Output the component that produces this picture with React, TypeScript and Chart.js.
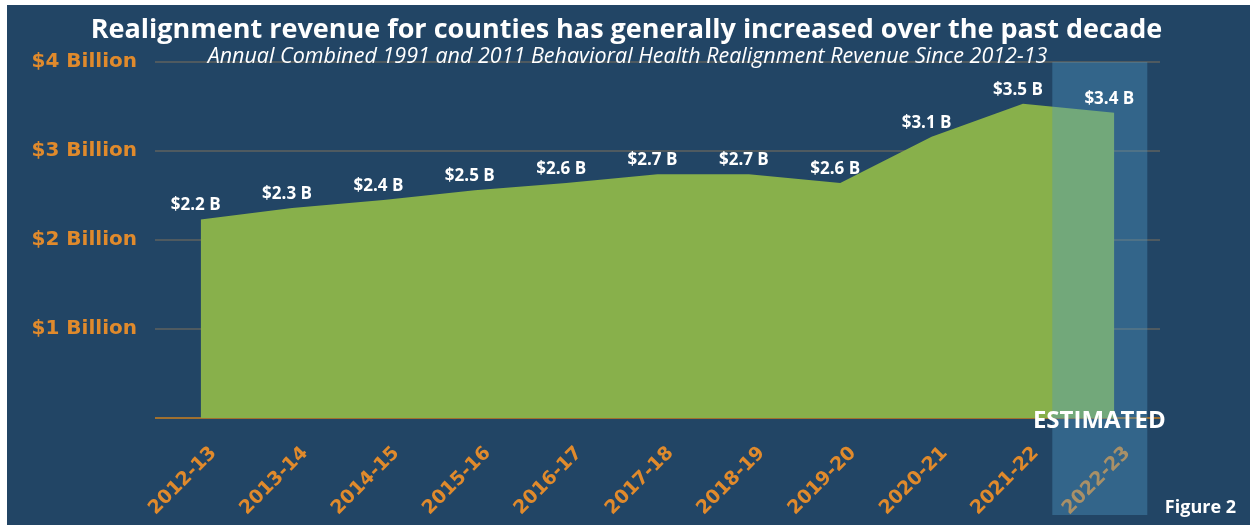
import React, { useEffect, useRef } from "react";
import { Chart, registerables } from "chart.js";

Chart.register(...registerables);

const categories = ["2012-13", "2013-14", "2014-15", "2015-16", "2016-17", "2017-18", "2018-19", "2019-20", "2020-21", "2021-22", "2022-23"];
const revenueBillions = [2.23, 2.36, 2.45, 2.56, 2.64, 2.74, 2.74, 2.64, 3.16, 3.53, 3.43];
const valueLabels = ["$2.2 B", "$2.3 B", "$2.4 B", "$2.5 B", "$2.6 B", "$2.7 B", "$2.7 B", "$2.6 B", "$3.1 B", "$3.5 B", "$3.4 B"];
const yTickLabels = ["", "$1 Billion", "$2 Billion", "$3 Billion", "$4 Billion"];

const TITLE = "Realignment revenue for counties has generally increased over the past decade";
const SUBTITLE = "Annual Combined 1991 and 2011 Behavioral Health Realignment Revenue Since 2012-13";
const ESTIMATED = "ESTIMATED";
const FIGURE = "Figure 2";

const NAVY = "#224565";
const ORANGE = "#e08a2c";
const GREEN = "#88b04b";

const W = 1243;
const H = 520;

const overlayPlugin = {
  id: "overlay",
  afterDatasetsDraw(chart: any) {
    const ctx = chart.ctx;
    const x = chart.scales.x;
    const area = chart.chartArea;
    const lastX = x.getPixelForValue(categories.length - 1);
    // estimated band
    ctx.save();
    ctx.fillStyle = "rgba(78,155,200,0.38)";
    ctx.fillRect(lastX - 62, area.top, 95, H - 10 - area.top);
    ctx.restore();

    // value labels
    const meta = chart.getDatasetMeta(0);
    ctx.save();
    ctx.fillStyle = "#ffffff";
    ctx.font = "bold 17px 'Open Sans'";
    ctx.textAlign = "center";
    ctx.textBaseline = "middle";
    meta.data.forEach((pt: any, i: number) => {
      ctx.fillText(valueLabels[i], pt.x - 5, pt.y - 14);
    });

    // ESTIMATED
    ctx.font = "bold 24px 'Open Sans'";
    ctx.textBaseline = "alphabetic";
    ctx.fillText(ESTIMATED, lastX - 15, 423);

    // Title
    ctx.font = "bold 27px 'Open Sans'";
    ctx.fillText(TITLE, W / 2 - 2, 33);
    ctx.font = "italic 21.5px 'Open Sans'";
    ctx.fillText(SUBTITLE, W / 2 - 1, 58);

    // Figure 2
    ctx.font = "bold 18px 'Open Sans'";
    ctx.textAlign = "right";
    ctx.fillText(FIGURE, 1229, 508);
    ctx.restore();
  },
};

export default function App() {
  const ref = useRef<HTMLCanvasElement>(null);
  useEffect(() => {
    if (!ref.current) return;
    const chart = new Chart(ref.current, {
      type: "line",
      data: {
        labels: categories,
        datasets: [
          {
            data: revenueBillions,
            fill: "origin",
            backgroundColor: GREEN,
            borderColor: GREEN,
            borderWidth: 0,
            pointRadius: 0,
            tension: 0,
          },
        ],
      },
      options: {
        responsive: false,
        animation: false,
        devicePixelRatio: 1,
        layout: { padding: { top: 57, right: 90, left: 0, bottom: 0 } },
        plugins: { legend: { display: false }, tooltip: { enabled: false }, title: { display: false } },
        scales: {
          x: {
            offset: true,
            afterFit: (s: any) => {
              s.height = 107;
            },
            grid: { display: false },
            border: { display: false },
            ticks: {
              color: ORANGE,
              font: { family: "'DejaVu Sans'", weight: "bold", size: 19 },
              minRotation: 45,
              maxRotation: 45,
              autoSkip: false,
              padding: 16,
              labelOffset: 13,
            },
          },
          y: {
            min: 0,
            max: 4,
            afterFit: (s: any) => {
              s.width = 148;
            },
            border: { display: false },
            grid: {
              drawTicks: false,
              lineWidth: 2,
              color: (c: any) => (c.tick && c.tick.value === 0 ? "#a0702f" : "#4f5a60"),
            },
            ticks: {
              stepSize: 1,
              color: ORANGE,
              padding: 18,
              font: { family: "'DejaVu Sans'", weight: "bold", size: 20 },
              callback: (v: any) => yTickLabels[Number(v)] ?? "",
            },
          },
        },
      },
      plugins: [overlayPlugin],
    } as any);
    return () => chart.destroy();
  }, []);
  return (
    <div style={{ position: "absolute", left: 7, top: 5, width: W, height: H, background: NAVY }}>
      <canvas ref={ref} width={W} height={H} style={{ display: "block" }} />
    </div>
  );
}
